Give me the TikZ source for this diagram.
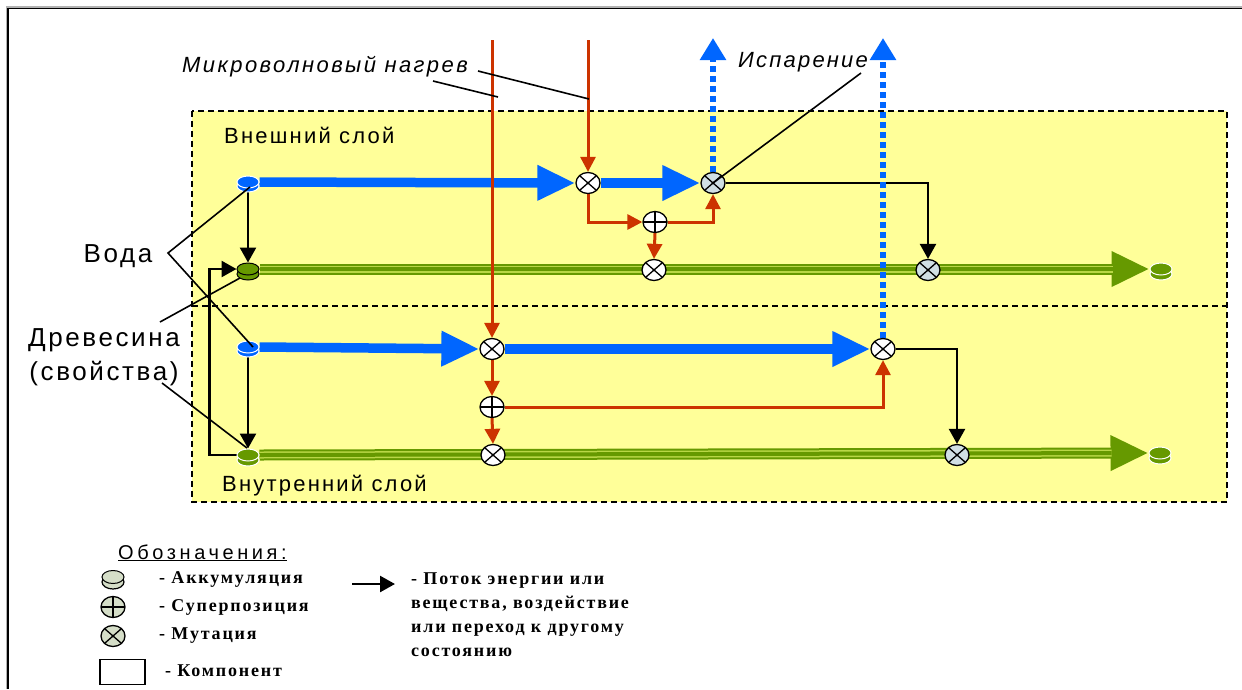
\documentclass[tikz,border=0pt]{standalone}
\usepackage{fontspec}
\setmainfont{Liberation Serif}
\setsansfont{Liberation Sans}
\newfontfamily\lsans[LetterSpace=10]{Liberation Sans}
\newfontfamily\lsansw[LetterSpace=11]{Liberation Sans}
\newfontfamily\lsansx[LetterSpace=18]{Liberation Sans}
\newfontfamily\lserif[LetterSpace=10]{Liberation Serif}
\usetikzlibrary{arrows.meta,shapes.geometric,calc}
\definecolor{bblue}{RGB}{0,102,255}
\definecolor{rred}{RGB}{204,51,0}
\definecolor{gdark}{RGB}{102,153,0}
\definecolor{glight}{RGB}{185,215,70}
\definecolor{yel}{RGB}{255,255,153}
\definecolor{mgray}{RGB}{208,223,228}
\definecolor{lgfill}{RGB}{213,222,200}
\pgfdeclarelayer{back}
\pgfdeclarelayer{lines}
\pgfsetlayers{back,lines,main}
\newcommand\accumul[6]{% name, x, y, fill, outline, offset
  \draw[line width=1pt, fill=#4, draw=#5] (#2,#3+#6) ellipse [x radius=11, y radius=6];
  \node[acc, fill=#4, draw=#5] (#1) at (#2,#3) {};}
\newcommand\gline[2]{%
  \draw[draw=gdark, line width=11pt, -{Triangle[length=38pt,width=33pt]}] (#1.east) -- (#2.west);
  \draw[draw=glight, line width=7pt, shorten >=37pt] (#1.east) -- (#2.west);
  \draw[draw=gdark, line width=4pt, shorten >=37pt] (#1.east) -- (#2.west);}
\tikzset{
  opnode/.style={ellipse, draw=black, line width=1.3pt, fill=white, minimum width=24pt, minimum height=21pt, inner sep=0pt},
  mut/.style={opnode, path picture={\draw[line width=1.3pt] (path picture bounding box.north west) -- (path picture bounding box.south east) (path picture bounding box.north east) -- (path picture bounding box.south west);}},
  sup/.style={opnode, path picture={\draw[line width=1.3pt] (path picture bounding box.north) -- (path picture bounding box.south) (path picture bounding box.east) -- (path picture bounding box.west);}},
  acc/.style={ellipse, minimum width=22pt, minimum height=12pt, inner sep=0pt, line width=1pt},
  barrow/.style={draw=bblue, line width=9.5pt, -{Triangle[length=38pt,width=33pt]}},
  rline/.style={draw=rred, line width=3pt},
  rarrow/.style={rline, -{Triangle[length=15pt,width=15pt]}},
  karrow/.style={draw=black, line width=2.5pt, -{Triangle[length=15pt,width=16pt]}},
  bdot/.style={draw=bblue, line width=6pt, dash pattern=on 6pt off 4pt, -{Triangle[length=22pt,width=25pt]}},
  lead/.style={draw=black, line width=1.6pt},
  lbl/.style={font=\lsans\fontsize{22}{26}\selectfont, inner sep=0pt},
  big/.style={font=\lsans\fontsize{26}{34}\selectfont, inner sep=0pt},
  legt/.style={font=\lserif\bfseries\fontsize{18}{24}\selectfont, inner sep=0pt},
}
\begin{document}
\begin{tikzpicture}[x=1pt,y=-1pt]
\useasboundingbox (0,0) rectangle (1242,689);
% outer frame
\begin{pgfonlayer}{back}
\draw[gray!60, line width=3pt] (7,689) -- (7,7.5) -- (1242,7.5);
\draw[black, line width=1.5pt] (8,689) -- (8,8.5) -- (1242,8.5);
\path[fill=yel] (192,111) rectangle (1227,502);
\draw[dash pattern=on 6pt off 4pt, line width=2pt] (192,111) rectangle (1227,502);
\draw[dash pattern=on 6pt off 4pt, line width=2pt] (192,306) -- (1227,306);
\end{pgfonlayer}

% accumulators
\accumul{wa1}{248}{182}{bblue}{white}{4}
\accumul{wd1}{248}{269}{gdark}{black}{5}
\accumul{wa2}{248}{347}{bblue}{white}{4}
\accumul{wd2}{248}{455}{gdark}{white}{5}
\accumul{wd1e}{1161}{269}{gdark}{white}{5}
\accumul{wd2e}{1160}{453}{gdark}{white}{5}

% operation nodes
\node[mut] (m1) at (588,183) {};
\node[mut, fill=mgray] (m2) at (713,183) {};
\node[sup] (s1) at (655,222) {};
\node[mut] (m3) at (654,270) {};
\node[mut, fill=mgray] (m4) at (928,270) {};
\node[mut] (m5) at (492,349) {};
\node[mut] (m6) at (883,349) {};
\node[sup] (s2) at (492,407) {};
\node[mut] (m7) at (493,455) {};
\node[mut, fill=mgray] (m8) at (957,455) {};

\coordinate (r1) at (588,40);
\coordinate (r2) at (492,40);
\coordinate (e1) at (713,38);
\coordinate (e2) at (883,38);

\begin{pgfonlayer}{lines}
\draw[barrow] (wa1.east) -- (m1.west);
\draw[barrow] (m1.east) -- (m2.west);
\draw[barrow] (wa2.east) -- (m5.west);
\draw[barrow] (m5.east) -- (m6.west);
\gline{wd1}{wd1e}
\gline{wd2}{wd2e}
\draw[karrow] (wa1.south) -- (wd1.north);
\draw[karrow] (wa2.south) -- (wd2.north);
\draw[karrow] (wd2.west) -- ++(-27,0) |- (wd1.west);
\draw[karrow] (m2.east) -| (m4.north);
\draw[karrow] (m6.east) -| (m8.north);
\draw[rarrow] (r1) -- (m1.north);
\draw[rarrow] (m1.south) |- (s1.west);
\draw[rarrow] (s1.east) -| (m2.south);
\draw[rarrow] (s1.south) -- (m3.north);
\draw[rarrow] (r2) -- (m5.north);
\draw[rarrow] (m5.south) -- (s2.north);
\draw[rarrow] (s2.south) -- (m7.north);
\draw[rarrow] (s2.east) -| (m6.south);
\draw[bdot] (m2.north) -- (e1);
\draw[bdot] (m6.north) -- (e2);
\end{pgfonlayer}

% labels
\node[lbl, anchor=base west] (outer) at (224,143) {Внешний слой};
\node[lbl, anchor=base west] (inner) at (222,491) {Внутренний слой};
\node[font=\lsansw\itshape\fontsize{22}{26}\selectfont, inner sep=0pt, anchor=base west] (mw) at (182,72) {Микроволновый нагрев};
\node[lbl, font=\lsans\itshape\fontsize{22}{26}\selectfont, anchor=base west] (isp) at (738,67) {Испарение};
\node[big, anchor=base] (voda) at (118,262) {Вода};
\node[big, align=center, anchor=base] (drev) at (104,380) {Древесина\\(свойства)};

\coordinate (mwa) at (433,81);
\coordinate (mwb) at (498,97);
\coordinate (mwc) at (478,71);
\coordinate (mwd) at (589,99);
\coordinate (ispa) at (861,73);
\coordinate (va) at (168,253);
\coordinate (da) at (160,322);
\coordinate (db) at (162,383);
\draw[lead] (mwa) -- (mwb);
\draw[lead] (mwc) -- (mwd);
\draw[lead] (ispa) -- (m2.center);
\draw[lead] (250,187) -- (va) -- (253,347);
\draw[lead] (da) -- (240,278);
\draw[lead] (db) -- (247,448);

% legend
\node[font=\lsansx\fontsize{20}{24}\selectfont, inner sep=0pt, anchor=base west] (leg) at (118,559) {\underline{Обозначения:}};
\draw[line width=1.2pt, fill=lgfill] (113,582) ellipse [x radius=11, y radius=7];
\node[acc, fill=lgfill, draw=black, minimum height=13pt] (la) at (113,577) {};
\node[sup, fill=lgfill] (ls) at (113,607) {};
\node[mut, fill=lgfill] (lm) at (113,636) {};
\node[draw, line width=1.5pt, minimum width=45pt, minimum height=25pt, inner sep=0pt] (lr) at (122.5,672) {};
\node[legt, anchor=west] (ta) at (159,579) {- Аккумуляция};
\node[legt, anchor=west] (ts) at (159,607) {- Суперпозиция};
\node[legt, anchor=west] (tm) at (159,636) {- Мутация};
\node[legt, anchor=west] (tr) at (165,671) {- Компонент};
\coordinate (la1) at (352,584);
\coordinate (la2) at (395,584);
\draw[karrow] (la1) -- (la2);
\node[legt, anchor=north west, align=left] (tf) at (411,573) {- Поток энергии или\\вещества, воздействие\\или переход к другому\\состоянию};
\end{tikzpicture}
\end{document}
